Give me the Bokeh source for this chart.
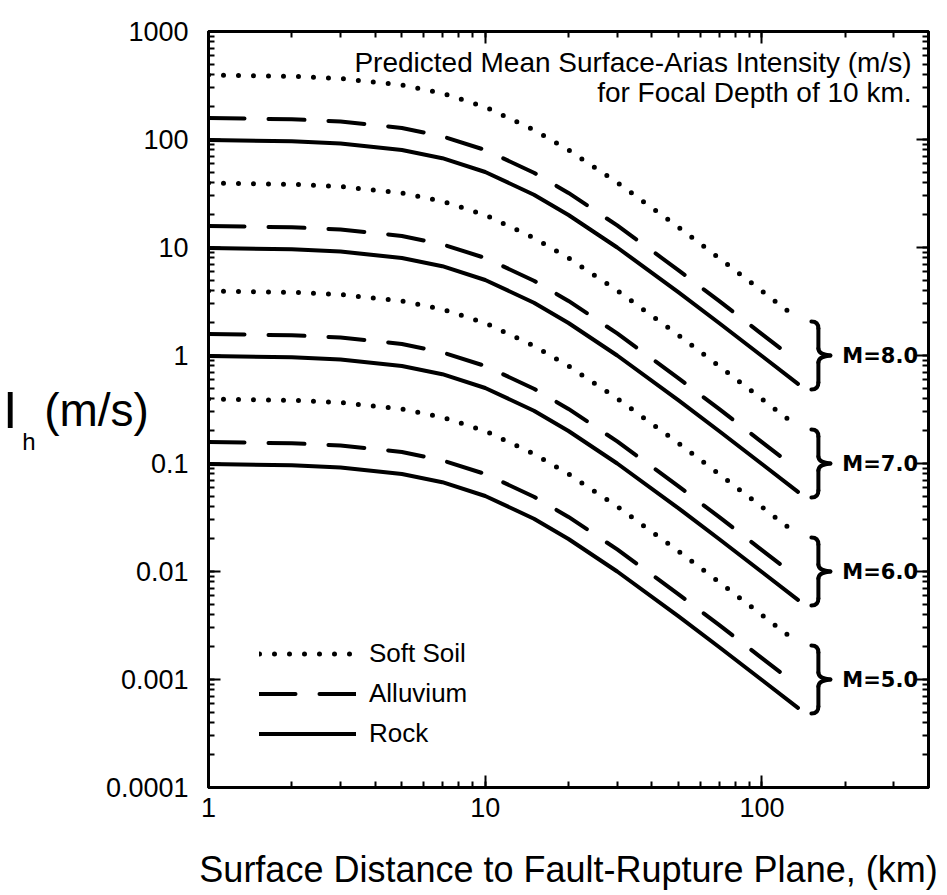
import math
from bokeh.plotting import figure
from bokeh.models import (FixedTicker, LogAxis, Label, Legend, LegendItem,
                          ColumnDataSource, CustomJSTickFormatter)
from bokeh.core.properties import value
from bokeh.embed import file_html
from bokeh.resources import INLINE

# ---------------- data ----------------
distance_km = [1, 2, 3, 5, 7, 10, 15, 20, 30, 50, 70, 100, 135]

rock_m8 = [99.0, 96.2, 91.7, 80.0, 67.1, 50.0, 30.8, 20.0, 10.0, 3.85, 2.0, 0.99, 0.546]
rock_m7 = [9.9, 9.62, 9.17, 8.0, 6.71, 5.0, 3.08, 2.0, 1.0, 0.385, 0.2, 0.099, 0.0546]
rock_m6 = [0.99, 0.962, 0.917, 0.8, 0.671, 0.5, 0.308, 0.2, 0.1, 0.0385, 0.02, 0.0099, 0.00546]
rock_m5 = [0.099, 0.0962, 0.0917, 0.08, 0.0671, 0.05, 0.0308, 0.02, 0.01, 0.00385, 0.002, 0.00099, 0.000546]

alluvium_m8 = [158, 154, 147, 128, 107, 80.0, 49.2, 32.0, 16.0, 6.15, 3.2, 1.58, 0.873]
alluvium_m7 = [15.8, 15.4, 14.7, 12.8, 10.7, 8.0, 4.92, 3.2, 1.6, 0.615, 0.32, 0.158, 0.0873]
alluvium_m6 = [1.58, 1.54, 1.47, 1.28, 1.07, 0.8, 0.492, 0.32, 0.16, 0.0615, 0.032, 0.0158, 0.00873]
alluvium_m5 = [0.158, 0.154, 0.147, 0.128, 0.107, 0.08, 0.0492, 0.032, 0.016, 0.00615, 0.0032, 0.00158, 0.000873]

soft_m8 = [396, 385, 367, 320, 268, 200, 123, 80.0, 40.0, 15.4, 8.0, 3.96, 2.18]
soft_m7 = [39.6, 38.5, 36.7, 32.0, 26.8, 20.0, 12.3, 8.0, 4.0, 1.54, 0.8, 0.396, 0.218]
soft_m6 = [3.96, 3.85, 3.67, 3.2, 2.68, 2.0, 1.23, 0.8, 0.4, 0.154, 0.08, 0.0396, 0.0218]
soft_m5 = [0.396, 0.385, 0.367, 0.32, 0.268, 0.2, 0.123, 0.08, 0.04, 0.0154, 0.008, 0.00396, 0.00218]

magnitudes = [8.0, 7.0, 6.0, 5.0]
magnitude_labels = ["M=8.0", "M=7.0", "M=6.0", "M=5.0"]

x_ticks = [1, 10, 100]
x_tick_labels = ["1", "10", "100"]
y_ticks = [0.0001, 0.001, 0.01, 0.1, 1, 10, 100, 1000]
y_tick_labels = ["0.0001", "0.001", "0.01", "0.1", "1", "10", "100", "1000"]

# ---------------- layout ----------------
FONT = "Liberation Sans"
W, H = 947, 895
ML, MR, MT, MB = 207, 19, 31, 108
X_RANGE = (1, 400)
Y_RANGE = (1e-4, 1e3)
FRAME_W = W - ML - MR
FRAME_H = H - MT - MB
DX = FRAME_W / math.log10(X_RANGE[1] / X_RANGE[0])
DY = FRAME_H / math.log10(Y_RANGE[1] / Y_RANGE[0])

p = figure(width=W, height=H, x_axis_type="log", y_axis_type="log",
           x_range=X_RANGE, y_range=Y_RANGE, output_backend="svg",
           toolbar_location=None, min_border_left=ML, min_border_right=MR,
           min_border_top=MT, min_border_bottom=MB)
p.xgrid.visible = False
p.ygrid.visible = False
p.outline_line_color = "black"
p.outline_line_width = 3
p.background_fill_color = "white"
p.border_fill_color = "white"

x_minor = [m * 10 ** k for k in range(0, 3) for m in range(1, 10) if m * 10 ** k <= 400]
y_minor = [m * 10.0 ** k for k in range(-4, 3) for m in range(1, 10)]

def tick_fmt(tvals, tlabels):
    return CustomJSTickFormatter(args=dict(tvals=tvals, tlabels=tlabels), code="""
        const i = tvals.findIndex(t => Math.abs(Math.log10(t) - Math.log10(tick)) < 1e-6);
        return i >= 0 ? tlabels[i] : '';
    """)

def style_axis(ax, labels=True):
    ax.axis_line_color = "black"
    ax.axis_line_width = 3
    ax.major_tick_in = 12
    ax.major_tick_out = 0
    ax.minor_tick_in = 6
    ax.minor_tick_out = 0
    ax.major_tick_line_width = 2
    ax.minor_tick_line_width = 2
    ax.major_tick_line_color = "black"
    ax.minor_tick_line_color = "black"
    ax.major_label_text_font = FONT
    ax.major_label_text_color = "black"
    ax.axis_label_text_font = FONT
    ax.axis_label_text_font_style = "normal"
    ax.axis_label_text_color = "black"
    if labels:
        ax.major_label_text_font_size = "27px"
    else:
        ax.major_label_text_font_size = "0px"
        ax.major_label_standoff = 0

xax = p.xaxis[0]
xax.ticker = FixedTicker(ticks=x_ticks, minor_ticks=x_minor)
xax.formatter = tick_fmt(x_ticks, x_tick_labels)
style_axis(xax)
xax.major_label_standoff = 10
xax.axis_label = "Surface Distance to Fault-Rupture Plane, (km)"
xax.axis_label_text_font_size = "36px"
xax.axis_label_standoff = 29

yax = p.yaxis[0]
yax.ticker = FixedTicker(ticks=y_ticks, minor_ticks=y_minor)
yax.formatter = tick_fmt(y_ticks, y_tick_labels)
style_axis(yax)
yax.major_label_standoff = 20
# y title "I_h (m/s)" written horizontally, in three pieces
yax.axis_label = "(m/s)"
yax.axis_label_orientation = "horizontal"
yax.axis_label_text_font_size = "46px"
yax.axis_label_standoff = -46

def title_axis(text, size, standoff):
    ax = LogAxis(ticker=FixedTicker(ticks=[]), axis_label=text,
                 axis_label_orientation="horizontal",
                 axis_label_text_font=FONT, axis_label_text_font_size=size,
                 axis_label_text_font_style="normal", axis_label_text_color="black",
                 axis_label_standoff=standoff, axis_line_color=None,
                 major_tick_line_color=None, minor_tick_line_color=None,
                 major_tick_out=0, minor_tick_out=0, major_tick_in=0, minor_tick_in=0,
                 major_label_standoff=0, major_label_text_font_size="0px",
                 formatter=CustomJSTickFormatter(code="return '';"))
    p.add_layout(ax, "left")

title_axis("\n\nh", "24px", 6)
title_axis("I", "52px", 2)

top_ax = LogAxis(ticker=FixedTicker(ticks=x_ticks, minor_ticks=x_minor),
                 formatter=CustomJSTickFormatter(code="return '';"))
style_axis(top_ax, labels=False)
p.add_layout(top_ax, "above")
right_ax = LogAxis(ticker=FixedTicker(ticks=y_ticks, minor_ticks=y_minor),
                   formatter=CustomJSTickFormatter(code="return '';"))
style_axis(right_ax, labels=False)
p.add_layout(right_ax, "right")

# ---------------- curves ----------------
soft = [soft_m8, soft_m7, soft_m6, soft_m5]
alluvium = [alluvium_m8, alluvium_m7, alluvium_m6, alluvium_m5]
rock = [rock_m8, rock_m7, rock_m6, rock_m5]

r_soft = r_all = r_rock = None
for i in range(4):
    rs = p.line(distance_km, soft[i], line_color="black", line_width=5,
                line_dash="0 15", line_cap="round")
    ra = p.line(distance_km, alluvium[i], line_color="black", line_width=4,
                line_dash="36 24", line_cap="round")
    rr = p.line(distance_km, rock[i], line_color="black", line_width=4,
                line_cap="round", line_join="round")
    if i == 0:
        r_soft, r_all, r_rock = rs, ra, rr

# ---------------- braces and magnitude labels ----------------
BRACE_D = 160.0      # distance of the brace spine
HALF = 34            # half height in px

def bx(dx):
    return BRACE_D * 10 ** (dx / DX)

def by(c, dy):
    return c * 10 ** (dy / DY)

centers = [10 ** (m - 8.0) for m in magnitudes]
q = dict(x0=[], y0=[], x1=[], y1=[], cx=[], cy=[])
s = dict(x0=[], y0=[], x1=[], y1=[])
for c in centers:
    for (a, b, cc) in [((-7, HALF), (0, HALF - 7), (0, HALF)),
                       ((0, 7), (12, 0), (0, 1)),
                       ((12, 0), (0, -7), (0, -1)),
                       ((0, -HALF + 7), (-7, -HALF), (0, -HALF))]:
        q["x0"].append(bx(a[0])); q["y0"].append(by(c, a[1]))
        q["x1"].append(bx(b[0])); q["y1"].append(by(c, b[1]))
        q["cx"].append(bx(cc[0])); q["cy"].append(by(c, cc[1]))
    for (a, b) in [((0, HALF - 7), (0, 7)), ((0, -7), (0, -HALF + 7))]:
        s["x0"].append(bx(a[0])); s["y0"].append(by(c, a[1]))
        s["x1"].append(bx(b[0])); s["y1"].append(by(c, b[1]))

p.quadratic(x0="x0", y0="y0", x1="x1", y1="y1", cx="cx", cy="cy",
            source=ColumnDataSource(q), line_color="black", line_width=4, line_cap="round")
p.segment(x0="x0", y0="y0", x1="x1", y1="y1", source=ColumnDataSource(s),
          line_color="black", line_width=4, line_cap="round")

p.text(x=[bx(24)] * 4, y=centers, text=magnitude_labels,
       text_font=value("DejaVu Sans"), text_font_style="bold",
       text_font_size="21px", text_color="black",
       text_align="left", text_baseline="middle")

# ---------------- annotation ----------------
for txt, yy in [("Predicted Mean Surface-Arias Intensity (m/s)", FRAME_H - 31),
                ("for Focal Depth of 10 km.", FRAME_H - 61)]:
    p.add_layout(Label(x=FRAME_W - 18, y=yy, x_units="screen", y_units="screen",
                       text=txt, text_font=FONT, text_font_size="28px",
                       text_color="black", text_align="right", text_baseline="middle"))

# ---------------- legend ----------------
legend = Legend(items=[LegendItem(label="Soft Soil", renderers=[r_soft]),
                       LegendItem(label="Alluvium", renderers=[r_all]),
                       LegendItem(label="Rock", renderers=[r_rock])],
                location=(51, 38), glyph_width=97, glyph_height=29, spacing=9,
                label_standoff=13, padding=0, margin=0,
                border_line_color=None, background_fill_alpha=0,
                label_text_font=FONT, label_text_font_size="26px",
                label_text_color="black")
p.add_layout(legend)

open("out.html", "w").write(file_html(p, INLINE))
